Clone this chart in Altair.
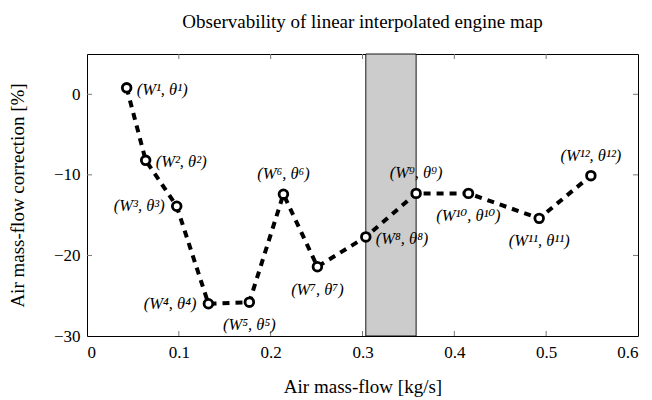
import altair as alt
import pandas as pd

# ---- data ----
W = [0.0432, 0.0639, 0.0977, 0.1322, 0.1768, 0.2139, 0.2509, 0.3036, 0.3584, 0.4154, 0.4924, 0.5487]
theta = [0.8, -8.2, -13.9, -26.0, -25.8, -12.4, -21.4, -17.7, -12.3, -12.3, -15.4, -10.1]
labels = ["(W¹, θ¹)", "(W², θ²)", "(W³, θ³)", "(W⁴, θ⁴)", "(W⁵, θ⁵)", "(W⁶, θ⁶)",
          "(W⁷, θ⁷)", "(W⁸, θ⁸)", "(W⁹, θ⁹)", "(W¹⁰, θ¹⁰)", "(W¹¹, θ¹¹)", "(W¹², θ¹²)"]
shade_x = [0.3036, 0.3584]
x_ticks = [0, 0.1, 0.2, 0.3, 0.4, 0.5, 0.6]
y_ticks = [-30, -20, -10, 0]

TITLE = "Observability of linear interpolated engine map"
X_TITLE = "Air mass-flow [kg/s]"
Y_TITLE = "Air mass-flow correction [%]"

# ---- layout ----
PW, PH = 551, 282
FONT = "Liberation Serif"
LFONT = "Liberation Serif, DejaVu Serif, serif"

side = {0: "right", 1: "right", 2: "left", 3: "left", 4: "below", 5: "above",
        6: "below", 7: "right", 8: "above", 9: "below", 10: "below", 11: "above"}

df = pd.DataFrame({"W": W, "theta": theta, "label": labels, "i": list(range(len(W)))})
df["side"] = [side[i] for i in df["i"]]

xs = alt.Scale(domain=[0, 0.6], nice=False, zero=False)
ys = alt.Scale(domain=[-30, 5], nice=False, zero=False)

x_axis = alt.Axis(values=x_ticks, format="~g", grid=False, ticks=False, domain=False,
                  labelFont=FONT, labelFontSize=17, labelColor="black", labelPadding=8,
                  title=X_TITLE, titleFont=FONT, titleFontSize=19, titleFontWeight="normal",
                  titleColor="black", titlePadding=17)
y_axis = alt.Axis(values=y_ticks, format="~g", grid=False, ticks=False, domain=False,
                  labelFont=FONT, labelFontSize=17, labelColor="black", labelPadding=7,
                  title=Y_TITLE, titleFont=FONT, titleFontSize=19, titleFontWeight="normal",
                  titleColor="black", titlePadding=26)

X = alt.X("W:Q", scale=xs, axis=x_axis)
Y = alt.Y("theta:Q", scale=ys, axis=y_axis)

shade = alt.Chart(pd.DataFrame({"x0": [shade_x[0]], "x1": [shade_x[1]]})).mark_rect(
    fill="#cccccc", stroke="black", strokeWidth=0.9
).encode(
    x=alt.X("x0:Q", scale=xs, axis=x_axis), x2="x1:Q",
    y=alt.value(0), y2=alt.value(PH)
)

line = alt.Chart(df).mark_line(
    color="black", strokeWidth=4, strokeDash=[7, 6], strokeCap="butt"
).encode(x=X, y=Y, order="i:Q")

pts = alt.Chart(df).mark_point(
    shape="circle", filled=False, fill="white", fillOpacity=1, stroke="black",
    strokeWidth=2.8, size=75, opacity=1
).encode(x=alt.X("W:Q", scale=xs), y=alt.Y("theta:Q", scale=ys))

def txt(which, **kw):
    return alt.Chart(df).transform_filter(alt.datum.side == which).mark_text(
        font=LFONT, fontSize=16.5, fontStyle="italic", color="black", baseline="middle", **kw
    ).encode(x=alt.X("W:Q", scale=xs), y=alt.Y("theta:Q", scale=ys), text="label:N")

t_right = txt("right", align="left", dx=10, dy=2)
t_left = txt("left", align="right", dx=-12, dy=0)
t_above = txt("above", align="center", dy=-20)
t_below = txt("below", align="center", dy=23)

# inward ticks on all four sides
xt = pd.DataFrame({"t": x_ticks[1:-1]})
yt = pd.DataFrame({"t": y_ticks[1:]})
tick_style = dict(color="#777777", strokeWidth=1)
tb = alt.Chart(xt).mark_rule(**tick_style).encode(
    x=alt.X("t:Q", scale=xs), y=alt.value(PH), y2=alt.value(PH - 5))
tt = alt.Chart(xt).mark_rule(**tick_style).encode(
    x=alt.X("t:Q", scale=xs), y=alt.value(0), y2=alt.value(5))
tl = alt.Chart(yt).mark_rule(**tick_style).encode(
    y=alt.Y("t:Q", scale=ys), x=alt.value(0), x2=alt.value(5))
tr = alt.Chart(yt).mark_rule(**tick_style).encode(
    y=alt.Y("t:Q", scale=ys), x=alt.value(PW), x2=alt.value(PW - 5))

chart = alt.layer(
    shade, tb, tt, tl, tr, line, pts, t_right, t_left, t_above, t_below
).properties(
    width=PW, height=PH,
    background="white",
    title=alt.TitleParams(TITLE, font=FONT, fontSize=19, fontWeight="normal",
                          color="black", anchor="middle", offset=22),
    autosize=alt.AutoSizeParams(type="none"),
    padding={"left": 87, "top": 54, "right": 14, "bottom": 64},
).configure_view(
    stroke="black", strokeWidth=1
)

chart.save("out.html", embed_options={"renderer": "svg", "actions": False})
